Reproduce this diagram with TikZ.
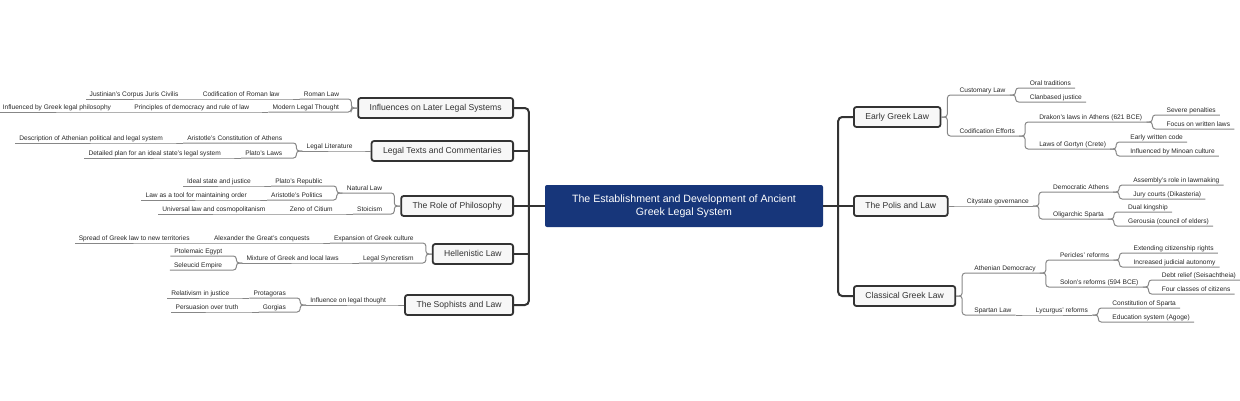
\documentclass[tikz,border=0pt]{standalone}
\usepackage{fontspec}
\setmainfont{Liberation Sans}
\usetikzlibrary{calc}
\definecolor{navy}{RGB}{23,54,122}
\definecolor{ink}{RGB}{51,51,51}
\definecolor{twig}{RGB}{135,135,135}
\begin{document}
\begin{tikzpicture}[x=1pt,y=-1pt,
  titlebox/.style={fill=navy,rounded corners=2pt,text=white,align=center,minimum width=278pt,minimum height=42pt,font=\fontsize{10.6}{13.3}\selectfont},
  topicbox/.style={draw=ink,line width=1.8pt,fill=black!3,rounded corners=2.5pt,text=ink,inner xsep=11.5pt,minimum height=20pt,text height=6.2pt,text depth=1.8pt,font=\fontsize{8.6}{10}\selectfont},
  rsub/.style={anchor=south west,inner xsep=4pt,inner ysep=0.8pt,text height=5pt,text depth=1.4pt,text=black!85,font=\fontsize{6.6}{8}\selectfont},
  lsub/.style={rsub,anchor=south east},
  trunkline/.style={draw=ink,line width=2pt,rounded corners=4pt},
  twigline/.style={draw=twig,line width=1pt,rounded corners=3pt}]
\useasboundingbox (0,0) rectangle (1240,400);

% Centre
\node[titlebox] (root) at (684,206) {The Establishment and Development of Ancient\\Greek Legal System};
\coordinate (lsp) at ($(root.west)+(-16,0)$);
\coordinate (rsp) at ($(root.east)+(15,0)$);

% Main topics
\node[topicbox,anchor=west] (early) at (853,117) {Early Greek Law};
\node[topicbox,anchor=west] (polis) at (853,206) {The Polis and Law};
\node[topicbox,anchor=west] (classical) at (853,296) {Classical Greek Law};
\node[topicbox,anchor=east] (infl) at (514,108) {Influences on Later Legal Systems};
\node[topicbox,anchor=east] (texts) at (514,151) {Legal Texts and Commentaries};
\node[topicbox,anchor=east] (philo) at (514,206) {The Role of Philosophy};
\node[topicbox,anchor=east] (hell) at (514,254) {Hellenistic Law};
\node[topicbox,anchor=east] (soph) at (514,305) {The Sophists and Law};

% Trunks
\draw[trunkline] (infl.east) -| (lsp) |- (soph.east);
\draw[trunkline] (root.west) -- (lsp);
\foreach \t in {texts,philo,hell} \draw[trunkline] (\t.east) -- (\t.east -| lsp);
\draw[trunkline] (early.west) -| (rsp) |- (classical.west);
\draw[trunkline] (root.east) -- (polis.west);

% Early Greek Law
\node[rsub] (cust) at ($(early.east)+(14,-22)$) {Customary Law};
\node[rsub] (oral) at ($(cust.south east)+(16,-7)$) {Oral traditions};
\node[rsub] (clan) at ($(cust.south east)+(16,7)$) {Clanbased justice};
\node[rsub] (codif) at ($(early.east)+(14,19)$) {Codification Efforts};
\node[rsub] (drakon) at ($(codif.south east)+(16,-14)$) {Drakon's laws in Athens (621 BCE)};
\node[rsub] (severe) at ($(drakon.south east)+(16,-7)$) {Severe penalties};
\node[rsub] (focus) at ($(drakon.south east)+(16,7)$) {Focus on written laws};
\node[rsub] (gortyn) at ($(codif.south east)+(16,13)$) {Laws of Gortyn (Crete)};
\node[rsub] (written) at ($(gortyn.south east)+(16,-7)$) {Early written code};
\node[rsub] (minoan) at ($(gortyn.south east)+(16,7)$) {Influenced by Minoan culture};
\foreach \c in {cust,codif} \draw[twigline] (early.east) -- ++(6,0) |- (\c.south west) -- (\c.south east);
\foreach \c in {oral,clan} \draw[twigline] (cust.south east) -- ++(6,0) |- (\c.south west) -- (\c.south east);
\foreach \c in {drakon,gortyn} \draw[twigline] (codif.south east) -- ++(6,0) |- (\c.south west) -- (\c.south east);
\foreach \c in {severe,focus} \draw[twigline] (drakon.south east) -- ++(6,0) |- (\c.south west) -- (\c.south east);
\foreach \c in {written,minoan} \draw[twigline] (gortyn.south east) -- ++(6,0) |- (\c.south west) -- (\c.south east);

% The Polis and Law
\node[rsub] (city) at ($(polis.east)+(14,0)$) {Citystate governance};
\node[rsub] (demo) at ($(city.south east)+(16,-14)$) {Democratic Athens};
\node[rsub] (assembly) at ($(demo.south east)+(16,-7)$) {Assembly's role in lawmaking};
\node[rsub] (jury) at ($(demo.south east)+(16,7)$) {Jury courts (Dikasteria)};
\node[rsub] (olig) at ($(city.south east)+(16,13)$) {Oligarchic Sparta};
\node[rsub] (dual) at ($(olig.south east)+(16,-7)$) {Dual kingship};
\node[rsub] (gerousia) at ($(olig.south east)+(16,7)$) {Gerousia (council of elders)};
\draw[twigline] (polis.east) -- (city.south west) -- (city.south east);
\foreach \c in {demo,olig} \draw[twigline] (city.south east) -- ++(6,0) |- (\c.south west) -- (\c.south east);
\foreach \c in {assembly,jury} \draw[twigline] (demo.south east) -- ++(6,0) |- (\c.south west) -- (\c.south east);
\foreach \c in {dual,gerousia} \draw[twigline] (olig.south east) -- ++(6,0) |- (\c.south west) -- (\c.south east);

% Classical Greek Law
\node[rsub] (athdem) at ($(classical.east)+(14,-23)$) {Athenian Democracy};
\node[rsub] (pericles) at ($(athdem.south east)+(16,-13)$) {Pericles' reforms};
\node[rsub] (extend) at ($(pericles.south east)+(16,-7)$) {Extending citizenship rights};
\node[rsub] (judicial) at ($(pericles.south east)+(16,7)$) {Increased judicial autonomy};
\node[rsub] (solon) at ($(athdem.south east)+(16,14)$) {Solon's reforms (594 BCE)};
\node[rsub] (debt) at ($(solon.south east)+(15,-7)$) {Debt relief (Seisachtheia)};
\node[rsub] (classes) at ($(solon.south east)+(15,7)$) {Four classes of citizens};
\node[rsub] (spartan) at ($(classical.east)+(14,19)$) {Spartan Law};
\node[rsub] (lycurgus) at ($(spartan.south east)+(16,0)$) {Lycurgus' reforms};
\node[rsub] (constit) at ($(lycurgus.south east)+(16,-7)$) {Constitution of Sparta};
\node[rsub] (agoge) at ($(lycurgus.south east)+(16,7)$) {Education system (Agoge)};
\foreach \c in {athdem,spartan} \draw[twigline] (classical.east) -- ++(6,0) |- (\c.south west) -- (\c.south east);
\foreach \c in {pericles,solon} \draw[twigline] (athdem.south east) -- ++(6,0) |- (\c.south west) -- (\c.south east);
\foreach \c in {extend,judicial} \draw[twigline] (pericles.south east) -- ++(6,0) |- (\c.south west) -- (\c.south east);
\foreach \c in {debt,classes} \draw[twigline] (solon.south east) -- ++(6,0) |- (\c.south west) -- (\c.south east);
\draw[twigline] (spartan.south east) -- (lycurgus.south west) -- (lycurgus.south east);
\foreach \c in {constit,agoge} \draw[twigline] (lycurgus.south east) -- ++(6,0) |- (\c.south west) -- (\c.south east);

% Influences on Later Legal Systems
\node[lsub] (roman) at ($(infl.west)+(-14,-9)$) {Roman Law};
\node[lsub] (codrom) at ($(roman.south west)+(-16,0)$) {Codification of Roman law};
\node[lsub] (justinian) at ($(codrom.south west)+(-16,0)$) {Justinian's Corpus Juris Civilis};
\node[lsub] (modern) at ($(infl.west)+(-14,4)$) {Modern Legal Thought};
\node[lsub] (principles) at ($(modern.south west)+(-15,0)$) {Principles of democracy and rule of law};
\node[lsub] (greekphil) at ($(principles.south west)+(-15,0)$) {Influenced by Greek legal philosophy};
\foreach \c in {roman,modern} \draw[twigline] (infl.west) -- ++(-6,0) |- (\c.south east) -- (\c.south west);
\draw[twigline] (roman.south west) -- (codrom.south east) -- (codrom.south west) -- (justinian.south east) -- (justinian.south west);
\draw[twigline] (modern.south west) -- (principles.south east) -- (principles.south west) -- (greekphil.south east) -- (greekphil.south west);

% Legal Texts and Commentaries
\node[lsub] (litera) at ($(texts.west)+(-14,0)$) {Legal Literature};
\node[lsub] (athpol) at ($(litera.south west)+(-16,-8)$) {Aristotle's Constitution of Athens};
\node[lsub] (descr) at ($(athpol.south west)+(-16,0)$) {Description of Athenian political and legal system};
\node[lsub] (platolaws) at ($(litera.south west)+(-16,7)$) {Plato's Laws};
\node[lsub] (plan) at ($(platolaws.south west)+(-16,0)$) {Detailed plan for an ideal state's legal system};
\draw[twigline] (texts.west) -- (litera.south east) -- (litera.south west);
\foreach \c in {athpol,platolaws} \draw[twigline] (litera.south west) -- ++(-6,0) |- (\c.south east) -- (\c.south west);
\draw[twigline] (athpol.south west) -- (descr.south east) -- (descr.south west);
\draw[twigline] (platolaws.south west) -- (plan.south east) -- (plan.south west);

% The Role of Philosophy
\node[lsub] (natlaw) at ($(philo.west)+(-14,-13)$) {Natural Law};
\node[lsub] (republic) at ($(natlaw.south west)+(-16,-7)$) {Plato's Republic};
\node[lsub] (ideal) at ($(republic.south west)+(-16,0)$) {Ideal state and justice};
\node[lsub] (politics) at ($(natlaw.south west)+(-16,7)$) {Aristotle's Politics};
\node[lsub] (order) at ($(politics.south west)+(-16,0)$) {Law as a tool for maintaining order};
\node[lsub] (stoic) at ($(philo.west)+(-14,8)$) {Stoicism};
\node[lsub] (zeno) at ($(stoic.south west)+(-16,0)$) {Zeno of Citium};
\node[lsub] (cosmo) at ($(zeno.south west)+(-16,0)$) {Universal law and cosmopolitanism};
\foreach \c in {natlaw,stoic} \draw[twigline] (philo.west) -- ++(-6,0) |- (\c.south east) -- (\c.south west);
\foreach \c in {republic,politics} \draw[twigline] (natlaw.south west) -- ++(-6,0) |- (\c.south east) -- (\c.south west);
\draw[twigline] (republic.south west) -- (ideal.south east) -- (ideal.south west);
\draw[twigline] (politics.south west) -- (order.south east) -- (order.south west);
\draw[twigline] (stoic.south west) -- (zeno.south east) -- (zeno.south west) -- (cosmo.south east) -- (cosmo.south west);

% Hellenistic Law
\node[lsub] (expans) at ($(hell.west)+(-14,-11)$) {Expansion of Greek culture};
\node[lsub] (alexander) at ($(expans.south west)+(-16,0)$) {Alexander the Great's conquests};
\node[lsub] (spread) at ($(alexander.south west)+(-16,0)$) {Spread of Greek law to new territories};
\node[lsub] (syncret) at ($(hell.west)+(-14,9)$) {Legal Syncretism};
\node[lsub] (mixture) at ($(syncret.south west)+(-16,0)$) {Mixture of Greek and local laws};
\node[lsub] (ptolemaic) at ($(mixture.south west)+(-16,-7)$) {Ptolemaic Egypt};
\node[lsub] (seleucid) at ($(mixture.south west)+(-16,7)$) {Seleucid Empire};
\foreach \c in {expans,syncret} \draw[twigline] (hell.west) -- ++(-6,0) |- (\c.south east) -- (\c.south west);
\draw[twigline] (expans.south west) -- (alexander.south east) -- (alexander.south west) -- (spread.south east) -- (spread.south west);
\draw[twigline] (syncret.south west) -- (mixture.south east) -- (mixture.south west);
\foreach \c in {ptolemaic,seleucid} \draw[twigline] (mixture.south west) -- ++(-6,0) |- (\c.south east) -- (\c.south west);

% The Sophists and Law
\node[lsub] (thought) at ($(soph.west)+(-14,0)$) {Influence on legal thought};
\node[lsub] (protag) at ($(thought.south west)+(-16,-7)$) {Protagoras};
\node[lsub] (relat) at ($(protag.south west)+(-16,0)$) {Relativism in justice};
\node[lsub] (gorgias) at ($(thought.south west)+(-16,7)$) {Gorgias};
\node[lsub] (persu) at ($(gorgias.south west)+(-16,0)$) {Persuasion over truth};
\draw[twigline] (soph.west) -- (thought.south east) -- (thought.south west);
\foreach \c in {protag,gorgias} \draw[twigline] (thought.south west) -- ++(-6,0) |- (\c.south east) -- (\c.south west);
\draw[twigline] (protag.south west) -- (relat.south east) -- (relat.south west);
\draw[twigline] (gorgias.south west) -- (persu.south east) -- (persu.south west);
\end{tikzpicture}
\end{document}
